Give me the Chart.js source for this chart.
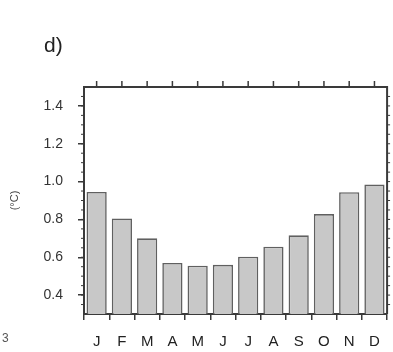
<!DOCTYPE html>
<html>
<head>
<meta charset="utf-8">
<script src="https://cdn.jsdelivr.net/npm/chart.js@4/dist/chart.umd.min.js"></script>
<style>
  html, body { margin: 0; padding: 0; background: #fff; }
  #wrap { position: relative; width: 393px; height: 352px; }
  .lbl { position: absolute; font-family: "Liberation Sans", Arial, sans-serif; color: #222; }
</style>
</head>
<body>
<div id="wrap">
  <canvas id="c" width="393" height="352"></canvas>
  <div class="lbl" style="left:44px; top:33px; font-size:21px;">d)</div>
  <div class="lbl" style="left:2px; top:331px; font-size:12px; color:#555;">3</div>
</div>
<script>
// monthly values (°C)
const months = ['J', 'F', 'M', 'A', 'M', 'J', 'J', 'A', 'S', 'O', 'N', 'D'];
const values = [0.945, 0.805, 0.70, 0.57, 0.555, 0.56, 0.603, 0.656, 0.716, 0.828, 0.944, 0.985];
const yTicks = [0.4, 0.6, 0.8, 1.0, 1.2, 1.4];
const yMin = 0.3, yMax = 1.5;

const axisColor = '#3a3a3a';

// frame (top + right), top ticks and minor ticks
const framePlugin = {
  id: 'frame',
  afterDraw(chart) {
    const { ctx, chartArea: a, scales } = chart;
    ctx.save();
    ctx.strokeStyle = axisColor;
    ctx.lineWidth = 2;
    ctx.beginPath();
    ctx.moveTo(a.left, a.top);
    ctx.lineTo(a.right, a.top);
    ctx.lineTo(a.right, a.bottom);
    ctx.stroke();

    ctx.lineWidth = 1.5;
    ctx.beginPath();
    months.forEach((m, i) => {
      const x = scales.x.getPixelForValue(i);
      ctx.moveTo(x, a.top);
      ctx.lineTo(x, a.top - 6);
    });
    ctx.stroke();

    ctx.lineWidth = 1;
    ctx.beginPath();
    for (let v = 0.35; v < yMax; v += 0.05) {
      const y = scales.y.getPixelForValue(v);
      ctx.moveTo(a.left, y);
      ctx.lineTo(a.left - 3, y);
      ctx.moveTo(a.right, y);
      ctx.lineTo(a.right + 3, y);
    }
    ctx.stroke();
    ctx.restore();
  }
};

new Chart(document.getElementById('c'), {
  type: 'bar',
  data: {
    labels: months,
    datasets: [{
      data: values,
      backgroundColor: '#c8c8c8',
      borderColor: '#606060',
      borderWidth: 1.6,
      categoryPercentage: 1,
      barPercentage: 0.8
    }]
  },
  options: {
    responsive: false,
    animation: false,
    events: [],
    layout: { padding: { left: 0, top: 87, right: 3, bottom: 0 } },
    plugins: { legend: { display: false }, tooltip: { enabled: false } },
    scales: {
      x: {
        afterFit(s) { s.height = 38; },
        grid: { drawOnChartArea: false, tickLength: 6, color: axisColor, lineWidth: 1.5 },
        border: { color: axisColor, width: 2 },
        ticks: {
          padding: 13,
          color: '#222',
          font: { family: '"Liberation Sans", Arial, sans-serif', size: 15 }
        }
      },
      y: {
        min: yMin,
        max: yMax,
        afterFit(s) { s.width = 84; },
        afterBuildTicks(s) { s.ticks = yTicks.map(v => ({ value: v })); },
        grid: { drawOnChartArea: false, tickLength: 6, color: axisColor, lineWidth: 1.5 },
        border: { color: axisColor, width: 2 },
        ticks: {
          padding: 15,
          color: '#333',
          font: { family: '"Liberation Sans", Arial, sans-serif', size: 14 },
          callback: v => v.toFixed(1)
        },
        title: {
          display: true,
          text: '(°C)',
          color: '#444',
          padding: { top: 8, bottom: 0 },
          font: { family: '"Liberation Sans", Arial, sans-serif', size: 11 }
        }
      }
    }
  },
  plugins: [framePlugin]
});
</script>
</body>
</html>
